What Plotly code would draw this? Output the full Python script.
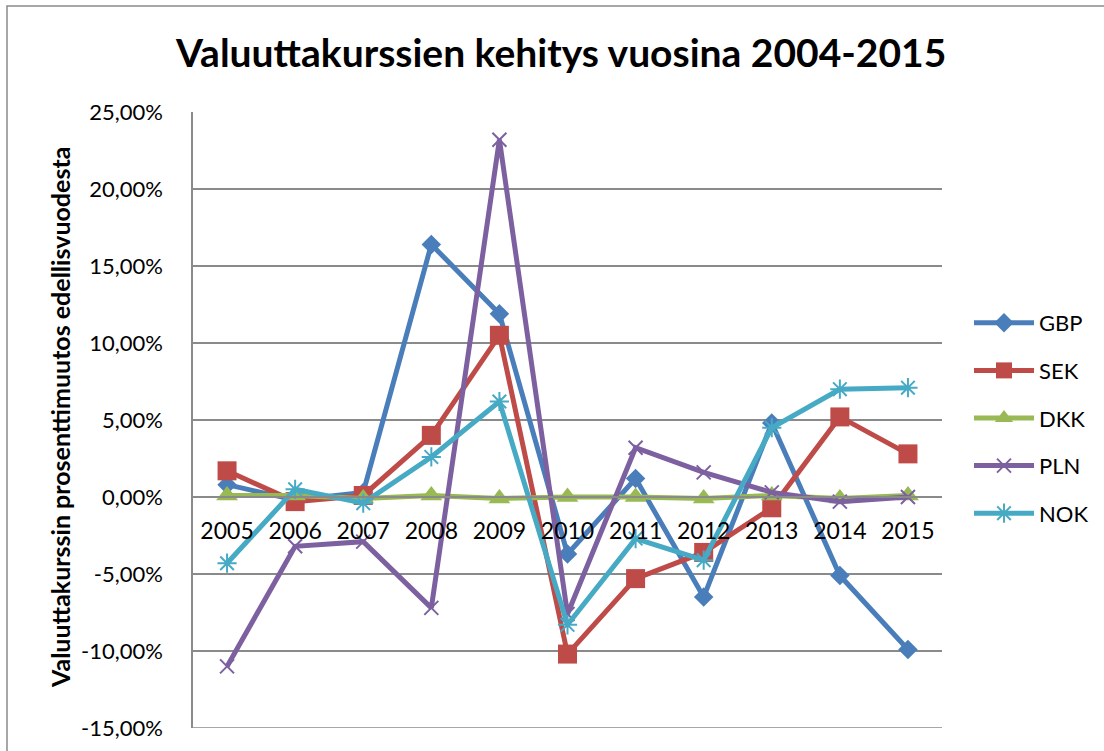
import plotly.graph_objects as go

years = ["2005", "2006", "2007", "2008", "2009", "2010", "2011", "2012", "2013", "2014", "2015"]
gbp = [0.8, -0.2, 0.3, 16.4, 11.9, -3.7, 1.2, -6.5, 4.8, -5.1, -9.9]
sek = [1.7, -0.3, 0.1, 4.0, 10.5, -10.2, -5.3, -3.6, -0.7, 5.2, 2.8]
dkk = [0.1, 0.1, -0.1, 0.1, -0.1, 0.0, 0.0, -0.1, 0.1, -0.1, 0.1]
pln = [-11.0, -3.2, -2.9, -7.2, 23.2, -7.6, 3.2, 1.6, 0.3, -0.3, 0.0]
nok = [-4.3, 0.5, -0.4, 2.6, 6.2, -8.3, -2.7, -4.1, 4.5, 7.0, 7.1]

y_ticks = [-15, -10, -5, 0, 5, 10, 15, 20, 25]
y_tick_labels = ["-15,00%", "-10,00%", "-5,00%", "0,00%", "5,00%", "10,00%", "15,00%", "20,00%", "25,00%"]

title_text = "Valuuttakurssien kehitys vuosina 2004-2015"
y_title = "Valuuttakurssin prosenttimuutos edellisvuodesta"

FONT = "Lato"
W, H = 1104, 751
L, R, T, B = 193, 162, 112, 23
pw, ph = W - L - R, H - T - B

def px_x(p):
    return (p - L) / pw

def px_y(p):
    return (H - B - p) / ph

series = [
    ("GBP", gbp, "#4A7EBB", dict(symbol="diamond", size=15)),
    ("SEK", sek, "#BE4B48", dict(symbol="square", size=19)),
    ("DKK", dkk, "#98B954", dict(symbol="triangle-up", size=19)),
    ("PLN", pln, "#7D60A0", dict(symbol="x-thin-open", size=14, line=dict(width=2, color="#7D60A0"))),
    ("NOK", nok, "#46AAC5", dict(symbol="asterisk-open", size=16, line=dict(width=2, color="#46AAC5"))),
]

fig = go.Figure()
for name, vals, color, mk in series:
    m = dict(color=color)
    m.update(mk)
    fig.add_trace(go.Scatter(
        x=years, y=vals, name=name, mode="lines+markers",
        line=dict(color=color, width=5), marker=m,
        legendgroup=name,
    ))

ymin, ymax = -15, 25
zero_pos = (0 - ymin) / (ymax - ymin)

fig.update_layout(
    width=W, height=H,
    margin=dict(l=L, r=R, t=T, b=B, autoexpand=False),
    paper_bgcolor="white", plot_bgcolor="white",
    font=dict(family=FONT, color="black"),
    showlegend=True,
    legend=dict(
        x=px_x(969), xanchor="left", y=px_y(418), yanchor="middle",
        font=dict(size=22, family=FONT), tracegroupgap=16, itemwidth=60,
        traceorder="grouped", bgcolor="rgba(0,0,0,0)",
    ),
    xaxis=dict(
        type="category", range=[-0.5, 10.5], anchor="free", position=zero_pos,
        showgrid=False, showline=True, linecolor="#8a8a8a", linewidth=1.5,
        ticks="", tickfont=dict(size=23, family=FONT), ticklabelstandoff=14,
        zeroline=False, automargin=False,
    ),
    yaxis=dict(
        range=[ymin, ymax], tickvals=y_ticks, ticktext=y_tick_labels,
        showgrid=True, gridcolor="#8a8a8a", gridwidth=1.5,
        showline=True, linecolor="#8a8a8a", linewidth=1.5,
        ticks="", tickfont=dict(size=22, family=FONT), ticklabelstandoff=24,
        zeroline=False, automargin=False,
    ),
    annotations=[
        dict(text=title_text, xref="paper", yref="paper", x=px_x(560), y=px_y(52),
             xanchor="center", yanchor="middle", showarrow=False,
             font=dict(size=39, family=FONT, color="black", weight="bold")),
        dict(text=y_title, xref="paper", yref="paper", x=px_x(60), y=px_y(418),
             xanchor="center", yanchor="middle", showarrow=False, textangle=-90,
             font=dict(size=25, family=FONT, color="black", weight="bold")),
    ],
    shapes=[
        dict(type="rect", xref="paper", yref="paper", x0=px_x(7), x1=px_x(1200),
             y0=px_y(800), y1=px_y(6), line=dict(color="#8a8a8a", width=1.5),
             fillcolor="rgba(0,0,0,0)", layer="below"),
        dict(type="line", xref="paper", yref="y", x0=0, x1=1, y0=ymin, y1=ymin,
             line=dict(color="#8a8a8a", width=1.5), layer="below"),
    ],
)

fig.write_html(
    "out.html",
    config={"displayModeBar": False},
    post_script="document.body.style.margin='0';document.body.style.overflow='hidden';",
)
